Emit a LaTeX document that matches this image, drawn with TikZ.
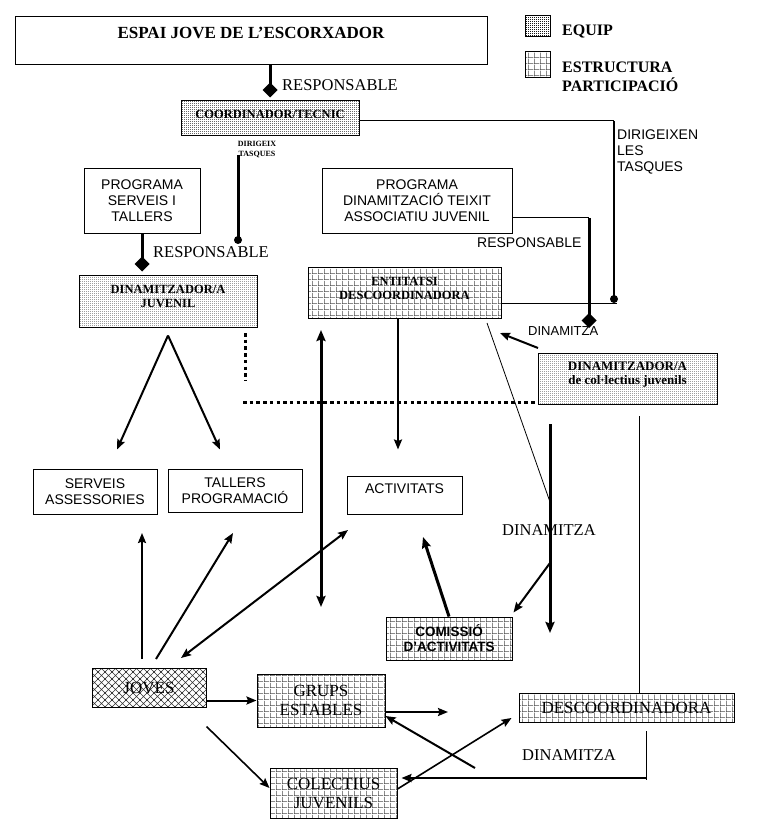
\documentclass[tikz,border=0pt]{standalone}
\usepackage{fontspec}
\setmainfont{Liberation Serif}
\setsansfont{Liberation Sans}
\usetikzlibrary{arrows.meta,patterns,patterns.meta}

\tikzdeclarepattern{name=fdots, type=uncolored,
  bounding box={(0pt,0pt) and (2pt,2pt)}, tile size={(2pt,2pt)},
  code={\pgfpathrectangle{\pgfpointorigin}{\pgfpoint{1.1pt}{1.1pt}}\pgfusepath{fill}}}
\tikzdeclarepattern{name=pgrid, type=uncolored,
  bounding box={(0pt,0pt) and (6pt,6pt)}, tile size={(6pt,6pt)},
  code={\pgfpathrectangle{\pgfpointorigin}{\pgfpoint{6pt}{0.6pt}}
        \pgfpathrectangle{\pgfpointorigin}{\pgfpoint{0.6pt}{6pt}}\pgfusepath{fill}}}
\tikzdeclarepattern{name=xhatch, type=uncolored,
  bounding box={(-1pt,-1pt) and (8pt,8pt)}, tile size={(7pt,7pt)},
  code={\pgfsetlinewidth{0.6pt}
        \pgfpathmoveto{\pgfpoint{-1pt}{-1pt}}\pgfpathlineto{\pgfpoint{8pt}{8pt}}
        \pgfpathmoveto{\pgfpoint{-1pt}{8pt}}\pgfpathlineto{\pgfpoint{8pt}{-1pt}}\pgfusepath{stroke}}}

\tikzset{
  plainbox/.style={draw, line width=1pt, inner sep=0pt, align=center,
    font=\sffamily\fontsize{14}{16}\selectfont},
  equipbox/.style={draw, line width=1pt, inner sep=0pt, align=center,
    pattern=fdots, pattern color=black!90,
    font=\bfseries\fontsize{12.5}{14}\selectfont},
  partbox/.style={draw, line width=1pt, inner sep=0pt, align=center,
    pattern=pgrid, pattern color=black!70,
    font=\fontsize{17}{19}\selectfont},
  jovebox/.style={draw, line width=1pt, inner sep=0pt, align=center,
    pattern=xhatch, pattern color=black!80,
    font=\fontsize{17}{19}\selectfont},
  serlab/.style={inner sep=0pt, anchor=base west, font=\fontsize{16.5}{18}\selectfont},
  sanlab/.style={inner sep=0pt, anchor=base west, font=\sffamily\fontsize{14}{16}\selectfont},
  arr/.style={line width=2pt, -{Stealth[length=10pt,width=8pt,inset=1.5pt]}},
  thickarr/.style={line width=3pt, -{Stealth[length=11pt,width=9pt,inset=1.5pt]}},
  dblarr/.style={line width=2pt, {Stealth[length=10pt,width=8pt,inset=1.5pt]}-{Stealth[length=10pt,width=8pt,inset=1.5pt]}},
  thickdbl/.style={line width=3pt, {Stealth[length=11pt,width=9pt,inset=1.5pt]}-{Stealth[length=11pt,width=9pt,inset=1.5pt]}},
  resp/.style={line width=3pt, -{Diamond[length=15pt,width=15pt]}},
  thinline/.style={line width=1pt},
  dotline/.style={line width=3pt, dash pattern=on 3.5pt off 3.2pt},
}

\begin{document}
\begin{tikzpicture}[x=1pt,y=-1pt]
\useasboundingbox (0,0) rectangle (764,826);

% ---- nodes ----
\node[plainbox, minimum width=472pt, minimum height=48pt,
  font=\bfseries\fontsize{17}{19}\selectfont, text height=11pt, text depth=16pt]
  (espai) at (251,41) {ESPAI JOVE DE L’ESCORXADOR};

\node[equipbox, minimum width=25pt, minimum height=21pt] (leg1) at (537.5,26.5) {};
\node[partbox, minimum width=25pt, minimum height=26pt] (leg2) at (537.5,65) {};
\node[serlab, font=\bfseries\fontsize{16}{19}\selectfont] (leg1t) at (562,36) {EQUIP};
\node[inner sep=0pt, anchor=north west, align=left, font=\bfseries\fontsize{16}{19}\selectfont]
  (leg2t) at (562,62) {ESTRUCTURA\\PARTICIPACIÓ};

\node[equipbox, minimum width=178pt, minimum height=35pt, text height=9pt, text depth=8pt]
  (coord) at (270,118.5) {COORDINADOR/TECNIC};

\node[plainbox, minimum width=116pt, minimum height=64pt] (progserv) at (142,201)
  {PROGRAMA\\SERVEIS I\\TALLERS};
\node[plainbox, minimum width=190pt, minimum height=64pt] (progdin) at (417,201)
  {PROGRAMA\\DINAMITZACIÓ TEIXIT\\ASSOCIATIU JUVENIL};

\node[equipbox, minimum width=178pt, minimum height=52pt] (dinjuv) at (168,301)
  {DINAMITZADOR/A\\JUVENIL\\[-4pt]};
\node[partbox, font=\bfseries\fontsize{12.5}{14}\selectfont, minimum width=193pt, minimum height=51pt]
  (entitats) at (404.5,292.5) {ENTITATSI\\DESCOORDINADORA\\[-5pt]};
\node[equipbox, font=\bfseries\fontsize{13}{14}\selectfont, minimum width=179pt, minimum height=51pt]
  (dincol) at (627.5,378.5) {DINAMITZADOR/A\\de col·lectius juvenils\\[-3pt]};

\node[plainbox, minimum width=124pt, minimum height=45pt] (servass) at (95,491.5) {SERVEIS\\ASSESSORIES};
\node[plainbox, minimum width=134pt, minimum height=43pt] (tallers) at (235,490.5) {TALLERS\\PROGRAMACIÓ};
\node[plainbox, minimum width=115pt, minimum height=38pt, text height=10pt, text depth=14pt]
  (activ) at (404.5,495) {ACTIVITATS};

\node[partbox, font=\sffamily\bfseries\fontsize{13.5}{15}\selectfont, minimum width=126pt, minimum height=43pt]
  (comissio) at (449,638.5) {COMISSIÓ\\D’ACTIVITATS};
\node[jovebox, minimum width=114pt, minimum height=39pt] (joves) at (149,687.5) {JOVES};
\node[partbox, minimum width=128pt, minimum height=53pt] (grups) at (321,700.5) {GRUPS\\ESTABLES};
\node[partbox, minimum width=215pt, minimum height=29pt] (desc) at (626.5,707.5) {DESCOORDINADORA};
\node[partbox, minimum width=127pt, minimum height=50pt] (colect) at (333.5,793) {COLECTIUS\\JUVENILS};

% ---- labels ----
\node[serlab] (l1) at (282,91) {RESPONSABLE};
\node[inner sep=0pt, anchor=north, align=center, font=\bfseries\fontsize{8}{10.5}\selectfont]
  (l2) at (257,141) {DIRIGEIX\\TASQUES};
\node[inner sep=0pt, anchor=north west, align=left, font=\sffamily\fontsize{14}{16}\selectfont]
  (l3) at (617,129.5) {DIRIGEIXEN\\LES\\TASQUES};
\node[serlab] (l4) at (153,257) {RESPONSABLE};
\node[sanlab] (l5) at (477,247) {RESPONSABLE};
\node[sanlab, font=\sffamily\fontsize{13}{15}\selectfont] (l6) at (528,335) {DINAMITZA};
\node[serlab, font=\fontsize{16.5}{18}\selectfont] (l7) at (502,535) {DINAMITZA};
\node[serlab, font=\fontsize{16.5}{18}\selectfont] (l8) at (522,760) {DINAMITZA};

% ---- free coordinates ----
\coordinate (dirA) at (614,299);
\coordinate (dirB1) at (238,155);
\coordinate (dirB2) at (238,240);
\coordinate (respT) at (589,218);
\coordinate (respB) at (589,328);
\coordinate (entR) at (617,303);
\coordinate (dcA) at (538,348);
\coordinate (dcB) at (500,333);
\coordinate (diagA) at (487,323);
\coordinate (diagB) at (550,502);
\coordinate (dotV1) at (245,333);
\coordinate (dotV2) at (245,380);
\coordinate (dotH1) at (243,402);
\coordinate (dotH2) at (537,402);
\coordinate (vA) at (321,330);
\coordinate (vB) at (321,607);
\coordinate (jU1) at (142,659);
\coordinate (jU2) at (142,533);
\coordinate (jT1) at (156,659);
\coordinate (jT2) at (233,533);
\coordinate (jA1) at (181,658);
\coordinate (jA2) at (348,530);
\coordinate (cA) at (423,537);
\coordinate (dV1) at (550,424);
\coordinate (dV2) at (550,633);
\coordinate (dV3) at (550,563);
\coordinate (dTop) at (639,416);
\coordinate (gF) at (448,712);
\coordinate (gB) at (475,768);
\coordinate (dB1) at (646,731);
\coordinate (dB2) at (646,778);

% ---- connectors ----
\draw[resp] (coord.north |- espai.south) -- ([yshift=3pt]coord.north);
\draw[thinline] ([yshift=-2.5pt]coord.east) -- ([yshift=-2.5pt]coord.east -| dirA);
\draw[line width=2.2pt] ([yshift=-2.5pt]coord.east -| dirA) -- (dirA);
\fill (dirA) circle (4pt);
\draw[line width=3pt] (dirB1) -- (dirB2);
\fill (dirB2) circle (4pt);

\draw[resp] (progserv.south) -- ([yshift=3pt]dinjuv.north -| progserv.south);
\draw[thinline] (progdin.east |- respT) -- (respT);
\draw[resp] (respT) -- (respB);
\draw[thinline] (entitats.east |- entR) -- (entR);

\draw[arr] (dcA) -- (dcB);
\draw[line width=0.8pt] (diagA) -- (diagB);
\draw[dotline] (dotV1) -- (dotV2);
\draw[dotline] (dotH1) -- (dotH2);

\draw[arr] ([yshift=-8pt]dinjuv.south) -- ([xshift=22pt,yshift=19pt]servass.north);
\draw[arr] ([yshift=-8pt]dinjuv.south) -- ([xshift=-15pt,yshift=19pt]tallers.north);
\draw[arr] ([xshift=-6.5pt]entitats.south) -- ([xshift=-6.5pt,yshift=26pt]activ.north);
\draw[thickdbl] (vA) -- (vB);

\draw[arr] (jU1) -- (jU2);
\draw[arr] (jT1) -- (jT2);
\draw[dblarr] (jA1) -- (jA2);
\draw[thickarr] (comissio.north) -- (cA);
\draw[thickarr] (dV1) -- (dV2);
\draw[arr] (dV3) -- ([xshift=1pt,yshift=4pt]comissio.north east);
\draw[thinline] (dTop) -- (dTop |- desc.north);

\draw[arr] (joves.east |- grups.west) -- (grups.west);
\draw[arr] ([yshift=-11.5pt]grups.east) -- (gF);
\draw[arr, line width=1.6pt] ([yshift=-19pt]joves.south east) -- ([yshift=5pt]colect.west);
\draw[arr, line width=1.6pt] ([yshift=4pt]colect.east) -- ([xshift=-7pt,yshift=4.5pt]desc.south west);
\draw[arr] (gB) -- ([yshift=-15.5pt]grups.east);
\draw[thinline] (dB1) -- ([yshift=-2pt]dB2);
\draw[arr, line width=2.5pt] (dB2) -- ([xshift=4pt,yshift=15pt]colect.east);
\end{tikzpicture}
\end{document}
